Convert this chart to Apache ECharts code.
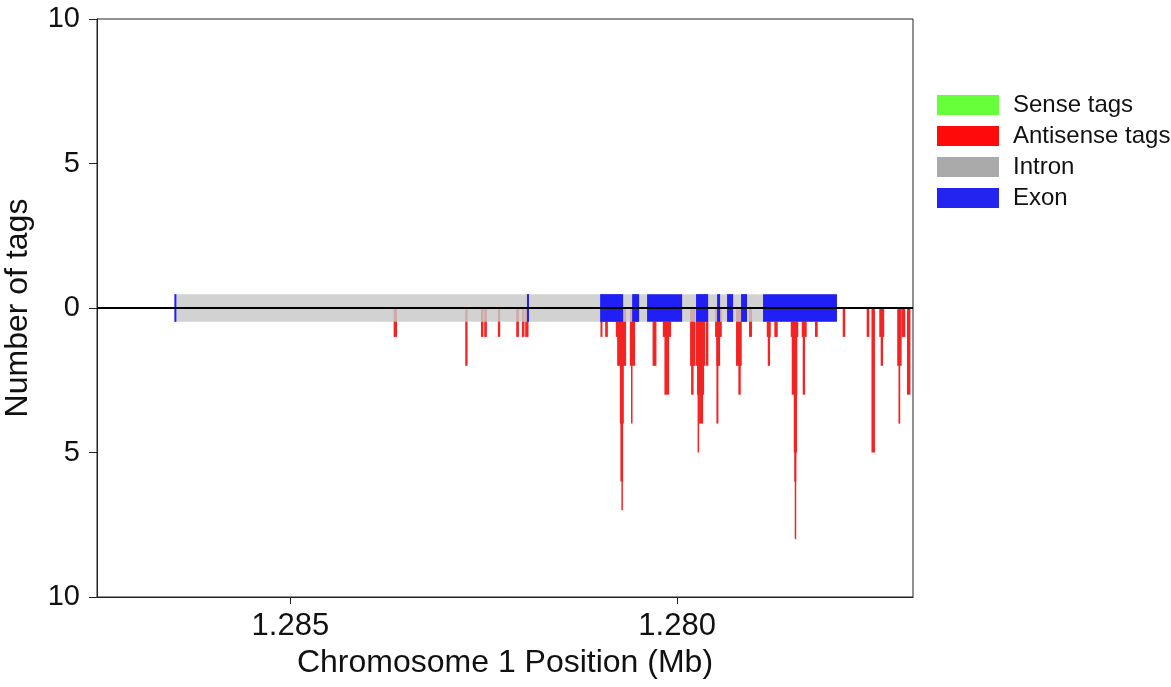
<!DOCTYPE html>
<html>
<head>
<meta charset="utf-8">
<script src="https://cdn.jsdelivr.net/npm/echarts@6/dist/echarts.min.js"></script>
<style>
  html, body { margin: 0; padding: 0; background: #fff; }
  #chart { width: 1171px; height: 687px; }
</style>
</head>
<body>
<div id="chart"></div>
<script>
// x ticks (Mb), axis runs right-to-left
const xTicks = [1.285, 1.280];

// intron span (Mb)
const intronStart = 1.286486;
const intronEnd = 1.277933;

// exon spans (Mb)
const exonStart = [1.286500, 1.281941, 1.280995, 1.280581, 1.280388, 1.279755, 1.279483, 1.279354, 1.279173, 1.278889];
const exonEnd   = [1.286474, 1.281915, 1.280698, 1.280491, 1.279935, 1.279599, 1.279444, 1.279276, 1.279096, 1.277933];

// antisense tags: span (Mb) and count
const antiStart = [
  1.283665, 1.282739, 1.282536, 1.282494, 1.282317, 1.282080, 1.282006, 1.281964,
  1.280991, 1.280930, 1.280792, 1.280775, 1.280740, 1.280733, 1.280714,
  1.280611, 1.280594, 1.280317, 1.280185, 1.280164,
  1.279832, 1.279819, 1.279761, 1.279742, 1.279716, 1.279735, 1.279629,
  1.279509, 1.279492, 1.279492, 1.279238, 1.279208, 1.279070,
  1.278841, 1.278828, 1.278743, 1.278531, 1.278518, 1.278492, 1.278485, 1.278476,
  1.278389, 1.278376, 1.278217, 1.277859, 1.277549, 1.277487,
  1.277386, 1.277368, 1.277154, 1.277138, 1.277097, 1.277028
];
const antiEnd = [
  1.283621, 1.282709, 1.282503, 1.282459, 1.282287, 1.282045, 1.281973, 1.281921,
  1.280965, 1.280895, 1.280663, 1.280659, 1.280689, 1.280698, 1.280707,
  1.280543, 1.280578, 1.280267, 1.280078, 1.280103,
  1.279767, 1.279787, 1.279638, 1.279651, 1.279664, 1.279716, 1.279596,
  1.279422, 1.279444, 1.279466, 1.279164, 1.279177, 1.279031,
  1.278789, 1.278798, 1.278699, 1.278433, 1.278446, 1.278450, 1.278459, 1.278463,
  1.278324, 1.278346, 1.278182, 1.277826, 1.277515, 1.277442,
  1.277322, 1.277338, 1.277097, 1.277115, 1.277050, 1.276983
];
const antiCount = [
  1, 2, 1, 1, 1, 1, 1, 1,
  1, 1, 1, 2, 4, 6, 7,
  2, 4, 2, 1, 3,
  2, 3, 2, 3, 4, 5, 2,
  1, 2, 4, 2, 3, 1,
  1, 2, 1, 1, 3, 5, 6, 8,
  1, 3, 1, 1, 1, 5,
  1, 2, 2, 4, 1, 3
];

// sense tags: none in this region
const senseStart = [];
const senseEnd = [];
const senseCount = [];

const barHalf = 0.48; // half height of gene model band

const chart = echarts.init(document.getElementById('chart'));

// rect between two data corners, at least minW px wide
function rectRender(minW) {
  return function (params, api) {
    const p0 = api.coord([api.value(0), api.value(2)]);
    const p1 = api.coord([api.value(1), api.value(3)]);
    let x = Math.min(p0[0], p1[0]);
    let w = Math.abs(p1[0] - p0[0]);
    if (w < minW) { x -= (minW - w) / 2; w = minW; }
    return {
      type: 'rect',
      shape: { x: x, y: Math.min(p0[1], p1[1]), width: w, height: Math.abs(p1[1] - p0[1]) },
      style: api.style()
    };
  };
}

const antiData = antiStart.map((s, i) => [s, antiEnd[i], 0, -antiCount[i]]);
const senseData = senseStart.map((s, i) => [s, senseEnd[i], 0, senseCount[i]]);
const intronData = [[intronStart, intronEnd, barHalf, -barHalf]];
const exonData = exonStart.map((s, i) => [s, exonEnd[i], barHalf, -barHalf]);

const font = 'Liberation Sans, Arial, sans-serif';

const option = {
  backgroundColor: '#fff',
  animation: false,
  grid: {
    left: 97, right: 258, top: 19, bottom: 90,
    outerBoundsMode: 'none',
    containLabel: false,
    show: true, borderColor: '#222', borderWidth: 1
  },
  legend: {
    orient: 'vertical',
    left: 932, top: 88,
    itemWidth: 62, itemHeight: 20, itemGap: 7,
    icon: 'rect',
    textStyle: { fontFamily: font, fontSize: 24, lineHeight: 24, color: '#111', padding: [0, 0, 0, 9] },
    data: [
      { name: 'Sense tags', itemStyle: { color: '#66ff3a' } },
      { name: 'Antisense tags', itemStyle: { color: '#ff0a0a' } },
      { name: 'Intron', itemStyle: { color: '#aaaaaa' } },
      { name: 'Exon', itemStyle: { color: '#2424f0' } }
    ]
  },
  xAxis: {
    type: 'value',
    inverse: true,
    min: 1.27695,
    max: 1.2875,
    name: 'Chromosome 1 Position (Mb)',
    nameLocation: 'middle',
    nameGap: 46,
    nameTextStyle: { fontFamily: font, fontSize: 32, color: '#111' },
    axisLine: { onZero: false, lineStyle: { color: '#222', width: 1 } },
    axisTick: { customValues: xTicks, length: 7, lineStyle: { color: '#222' } },
    axisLabel: {
      customValues: xTicks,
      formatter: v => v.toFixed(3),
      fontFamily: font, fontSize: 31, color: '#111', margin: 14
    },
    splitLine: { show: false }
  },
  yAxis: {
    type: 'value',
    min: -10, max: 10, interval: 5,
    name: 'Number of tags',
    nameLocation: 'middle',
    nameGap: 63,
    nameTextStyle: { fontFamily: font, fontSize: 32, color: '#111' },
    axisLine: { show: true, onZero: false, lineStyle: { color: '#222', width: 1 } },
    axisTick: { show: true, length: 8, lineStyle: { color: '#222' } },
    axisLabel: {
      formatter: v => String(Math.abs(v)),
      fontFamily: font, fontSize: 29, color: '#111', margin: 17
    },
    splitLine: { show: false }
  },
  series: [
    {
      name: 'Sense tags',
      type: 'custom',
      z: 2,
      renderItem: rectRender(1.5),
      itemStyle: { color: '#66ff3a' },
      encode: { x: [0, 1], y: [2, 3] },
      data: senseData
    },
    {
      name: 'Antisense tags',
      type: 'custom',
      z: 2,
      renderItem: rectRender(1.5),
      itemStyle: { color: '#f22424' },
      encode: { x: [0, 1], y: [2, 3] },
      data: antiData
    },
    {
      name: 'Intron',
      type: 'custom',
      z: 3,
      renderItem: rectRender(1),
      itemStyle: { color: 'rgba(200,200,200,0.82)' },
      encode: { x: [0, 1], y: [2, 3] },
      data: intronData
    },
    {
      name: 'Exon',
      type: 'custom',
      z: 4,
      renderItem: rectRender(2),
      itemStyle: { color: '#2020f4' },
      encode: { x: [0, 1], y: [2, 3] },
      data: exonData
    },
    {
      name: 'baseline',
      type: 'custom',
      z: 10,
      renderItem: () => null,
      data: [],
      markLine: {
        silent: true,
        symbol: 'none',
        label: { show: false },
        lineStyle: { color: '#000', width: 2, type: 'solid' },
        data: [{ yAxis: 0 }]
      }
    }
  ]
};

chart.setOption(option);
</script>
</body>
</html>
